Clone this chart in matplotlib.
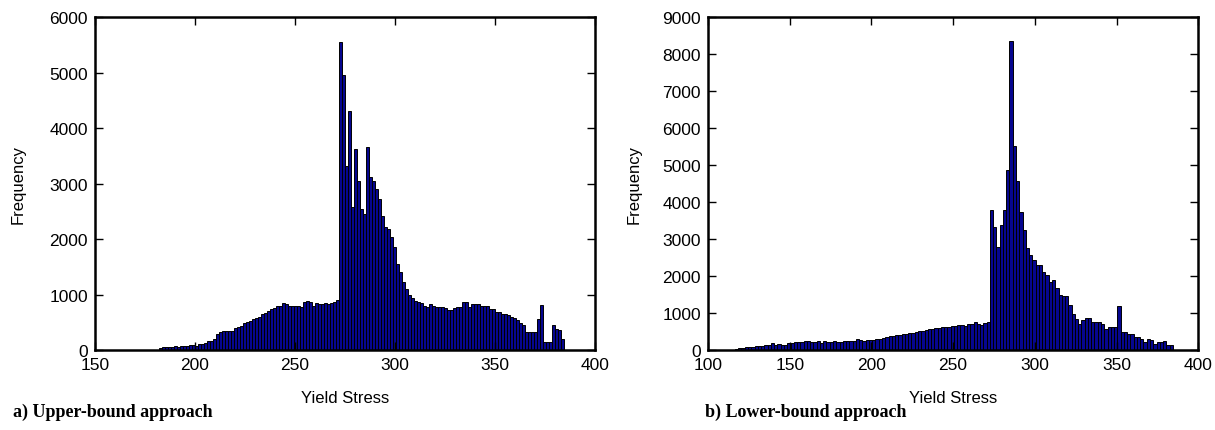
import numpy as np
import matplotlib.pyplot as plt

plt.rcParams['font.family'] = ['Liberation Sans', 'DejaVu Sans']

# --- a) Upper-bound approach: bin heights (bin width 1.5, starting at 182) ---
upper_start, upper_end = 182.0, 384.5
upper_freq = [
    40, 50, 50, 60, 60, 70, 60, 80, 80, 70, 90, 90, 80, 100, 100, 130, 160, 170, 200, 290,
    330, 340, 350, 350, 340, 400, 420,
    430, 480, 500, 520, 560, 570, 600,
    640, 660, 700, 740, 760, 790, 800, 840,
    820, 800, 790, 800, 800, 780, 860, 880, 870, 790,
    840, 830, 830, 840, 830, 850, 870, 900,
    5550, 4960, 3320, 4300, 2580, 3620, 3050, 2540, 2450, 3650,
    3110, 3050, 2900, 2720, 2420, 2210, 2180, 2030, 1850, 1550,
    1400, 1230, 1100, 1000, 940, 880,
    860, 840, 800, 770, 830, 800, 780, 770, 770, 760,
    720, 720, 750, 770, 770, 860, 860, 770, 830, 830,
    820, 800, 800, 790, 740, 740, 680, 680, 650, 640,
    630, 600, 570, 540, 480, 450, 330, 320, 320, 330,
    560, 810, 140, 140, 140, 450, 370, 360, 200,
]

# --- b) Lower-bound approach: bin heights (bin width 2, starting at 116.5) ---
lower_start, lower_end = 116.5, 384.5
lower_freq = [
    40, 45, 60, 70, 75, 90, 95, 95, 120, 130, 140, 185, 140, 150, 145, 140,
    180, 200, 210, 205, 215, 235, 230, 210, 215, 235, 200,
    240, 215, 220, 235, 210, 225, 245, 250, 230, 245, 290, 260, 245, 260,
    280, 270, 285, 310, 320, 350, 370, 380, 400, 410, 420, 440, 455, 470,
    500, 520, 510, 540, 555, 560, 590, 600, 610, 620, 615, 650, 660, 665,
    670, 640, 700, 710, 770, 700, 680, 740, 760,
    3785, 3330, 2790, 3380, 3785, 4870, 8360, 5510, 4560, 3740,
    3240, 2760, 2560, 2430, 2310, 2310, 2110, 2020, 1840, 1880,
    1680, 1500, 1460, 1460, 1220, 980, 840, 710, 800, 860,
    860, 770, 770, 760, 710, 570, 610, 610, 610, 1180,
    500, 500, 430, 430, 340, 340, 300, 210, 300, 270,
    160, 210, 210, 230, 130, 130,
]

fig = plt.figure(figsize=(12.15, 4.31), dpi=100)
ax1 = fig.add_axes([0.0782, 0.1856, 0.4115, 0.7726])
ax2 = fig.add_axes([0.5827, 0.1856, 0.4035, 0.7726])


def draw_hist(ax, start, end, freq, xlim, ylim, yticks, ypad):
    edges = np.linspace(start, end, len(freq) + 1)
    ax.bar(edges[:-1], freq, width=np.diff(edges), align='edge',
           color='#06068f', edgecolor='black', linewidth=0.7)
    ax.set_xlim(*xlim)
    ax.set_ylim(*ylim)
    ax.set_xticks(np.arange(xlim[0], xlim[1] + 1, 50))
    ax.set_yticks(yticks)
    ax.tick_params(direction='in', length=6, width=1, top=True, right=True,
                   labelsize=12.5, pad=5)
    for s in ax.spines.values():
        s.set_linewidth(1.8)
    ax.set_xlabel('Yield Stress', fontsize=12, labelpad=13)
    ax.set_ylabel('Frequency', fontsize=12, labelpad=ypad)


draw_hist(ax1, upper_start, upper_end, upper_freq, (150, 400), (0, 6000),
          np.arange(0, 6001, 1000), 17)
draw_hist(ax2, lower_start, lower_end, lower_freq, (100, 400), (0, 9000),
          np.arange(0, 9001, 1000), 15)

fig.text(0.011, 0.033, 'a) Upper-bound approach', fontsize=13, fontweight='bold',
         family='Liberation Serif')
fig.text(0.580, 0.033, 'b) Lower-bound approach', fontsize=13, fontweight='bold',
         family='Liberation Serif')

fig.savefig('out.png', dpi=100)
